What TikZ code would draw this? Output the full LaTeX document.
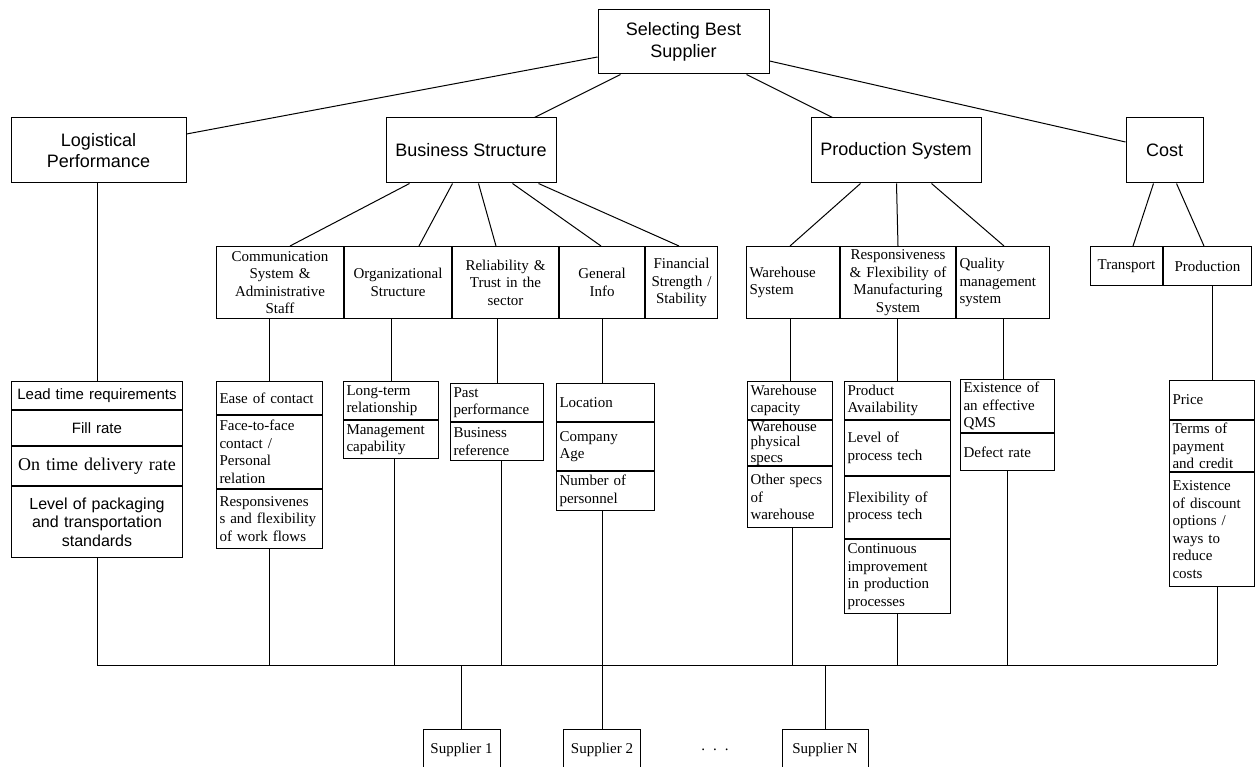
\documentclass[tikz,border=0pt]{standalone}
\usepackage{fontspec}
\setmainfont{Liberation Serif}
\setsansfont{Liberation Sans}
\usetikzlibrary{positioning}

\begin{document}
\begin{tikzpicture}[x=1pt, y=-1pt, line width=1pt,
  crit/.style={draw, align=center, inner sep=0pt,
               font=\sffamily\fontsize{18}{21.5}\selectfont},
  sub/.style={draw, anchor=north west, align=center, minimum height=72pt,
              inner xsep=3pt, inner ysep=0pt, font=\fontsize{15}{17.5}\selectfont},
  cell/.style={draw, anchor=north west, align=left,
               inner xsep=3pt, inner ysep=0pt, font=\fontsize{15}{17.5}\selectfont},
  supp/.style={draw, anchor=north, minimum height=40pt, inner sep=0pt,
               font=\fontsize{15}{17.5}\selectfont},
]
\path[use as bounding box, clip] (0,0) rectangle (1256,767);

% ---- Goal and main criteria ----
\node[crit, minimum width=171pt, minimum height=64pt] (goal) at (683.5,42) {Selecting Best\\Supplier};

\node[crit, minimum width=175pt, minimum height=65pt] (logi) at (98.5,150.5) {Logistical\\Performance};
\node[crit, minimum width=170pt, minimum height=65pt] (busi) at (471,150.5) {Business Structure};
\node[crit, minimum width=170pt, minimum height=65pt] (prod) at (896,150.5) {Production System};
\node[crit, minimum width=77pt, minimum height=65pt] (cost) at (1164.5,150.5) {Cost};

\draw ([yshift=-15pt]goal.west) -- ([yshift=16.5pt]logi.east);
\draw ([xshift=23pt]goal.south west) -- ([xshift=149pt]busi.north west);
\draw ([xshift=149pt]goal.south west) -- ([xshift=22pt]prod.north west);
\draw ([yshift=-19pt]goal.east) -- ([yshift=8.5pt]cost.west);

% ---- Sub-criteria ----
\node[sub, text width=121pt] (comm) at (216,246) {Communication\\System \&\\Administrative\\Staff};
\node[sub, text width=101pt, right=0pt of comm] (orga) {Organizational\\Structure};
\node[sub, text width=100pt, right=0pt of orga] (reli) {Reliability \&\\Trust in the\\sector};
\node[sub, text width=79pt, right=0pt of reli] (gene) {General\\Info};
\node[sub, text width=66pt, right=0pt of gene] (fina) {Financial\\Strength /\\Stability};

\node[sub, text width=87pt, align=left] (ware) at (746,246) {Warehouse\\System};
\node[sub, text width=109pt, right=0pt of ware] (resp) {Responsiveness\\\& Flexibility of\\Manufacturing\\System};
\node[sub, text width=87pt, align=left, right=0pt of resp] (qual) {Quality\\management\\system};

\node[sub, minimum height=39pt, text width=66pt] (tran) at (1090,246) {Transport};
\node[sub, minimum height=39pt, text width=82pt, right=0pt of tran] (prdn) {Production};

\draw ([xshift=24pt]busi.south west) -- ([xshift=74pt]comm.north west);
\draw ([xshift=67pt]busi.south west) -- ([xshift=75pt]orga.north west);
\draw ([xshift=93pt]busi.south west) -- ([xshift=44pt]reli.north west);
\draw ([xshift=127pt]busi.south west) -- ([xshift=42pt]gene.north west);
\draw ([xshift=153pt]busi.south west) -- ([xshift=34pt]fina.north west);

\draw ([xshift=50pt]prod.south west) -- ([xshift=44pt]ware.north west);
\draw ([xshift=86pt]prod.south west) -- ([xshift=58pt]resp.north west);
\draw ([xshift=121pt]prod.south west) -- ([xshift=48pt]qual.north west);

\draw ([xshift=28pt]cost.south west) -- ([xshift=43pt]tran.north west);
\draw ([xshift=51pt]cost.south west) -- ([xshift=41pt]prdn.north west);

% ---- Indicators ----
\node[cell, text width=165pt, align=center, minimum height=28pt,
      font=\sffamily\fontsize{15}{17.5}\selectfont] (lead) at (11,381) {Lead time requirements};
\node[cell, text width=165pt, align=center, minimum height=35pt,
      font=\sffamily\fontsize{15}{17.5}\selectfont, below=0pt of lead] (fill) {Fill rate};
\node[cell, text width=165pt, align=center, minimum height=39pt,
      font=\fontsize{18}{21}\selectfont, below=0pt of fill] (ontm) {On time delivery rate};
\node[cell, text width=165pt, align=center, minimum height=71pt,
      font=\sffamily\fontsize{16}{18.5}\selectfont, below=0pt of ontm] (pack) {Level of packaging\\and transportation\\standards};

\node[cell, text width=100pt, minimum height=33pt] (ease) at (216,381) {Ease of contact};
\node[cell, text width=100pt, minimum height=73pt, below=0pt of ease] (face) {Face-to-face\\contact /\\Personal\\relation};
\node[cell, text width=100pt, minimum height=59pt, below=0pt of face] (flow) {Responsivenes\\s and flexibility\\of work flows};

\node[cell, text width=89pt, minimum height=38pt] (longt) at (343,381) {Long-term\\relationship};
\node[cell, text width=89pt, minimum height=38pt, below=0pt of longt] (mgmt) {Management\\capability};

\node[cell, text width=87pt, minimum height=38pt] (past) at (450,383) {Past\\performance};
\node[cell, text width=87pt, minimum height=38pt, below=0pt of past] (bref) {Business\\reference};

\node[cell, text width=92pt, minimum height=38pt] (loca) at (556,383) {Location};
\node[cell, text width=92pt, minimum height=48pt, below=0pt of loca] (cage) {Company\\Age};
\node[cell, text width=92pt, minimum height=39pt, below=0pt of cage] (pers) {Number of\\personnel};

\node[cell, text width=79pt, minimum height=38pt] (wcap) at (747,381) {Warehouse\\capacity};
\node[cell, text width=79pt, minimum height=45pt, font=\fontsize{15}{15.5}\selectfont,
      below=0pt of wcap] (wphy) {Warehouse\\physical\\specs};
\node[cell, text width=79pt, minimum height=61pt, below=0pt of wphy] (woth) {Other specs\\of\\warehouse};

\node[cell, text width=100pt, minimum height=38pt] (avail) at (844,381) {Product\\Availability};
\node[cell, text width=100pt, minimum height=55pt, below=0pt of avail] (lvl) {Level of\\process tech};
\node[cell, text width=100pt, minimum height=62pt, below=0pt of lvl] (flex) {Flexibility of\\process tech};
\node[cell, text width=100pt, minimum height=74pt, below=0pt of flex] (cont) {Continuous\\improvement\\in production\\processes};

\node[cell, text width=88pt, minimum height=53pt] (qms) at (960,379) {Existence of\\an effective\\QMS};
\node[cell, text width=88pt, minimum height=37pt, below=0pt of qms] (defr) {Defect rate};

\node[cell, text width=79pt, minimum height=39pt] (price) at (1169,380) {Price};
\node[cell, text width=79pt, minimum height=51pt, below=0pt of price] (terms) {Terms of\\payment\\and credit};
\node[cell, text width=79pt, minimum height=114pt, below=0pt of terms] (disc) {Existence\\of discount\\options /\\ways to\\reduce\\costs};

\draw (lead.north) -- (lead.north |- logi.south);
\draw (ease.north) -- (ease.north |- comm.south);
\draw (longt.north) -- (longt.north |- orga.south);
\draw (past.north) -- (past.north |- reli.south);
\draw (gene.south) -- (gene.south |- loca.north);
\draw (wcap.north) -- (wcap.north |- ware.south);
\draw (avail.north) -- (avail.north |- resp.south);
\draw ([xshift=-4pt]qms.north) -- ([xshift=-4pt]qms.north |- qual.south);
\draw (price.north) -- (price.north |- prdn.south);

% ---- Suppliers ----
\coordinate (bus) at (0,665);

\node[supp, minimum width=77pt] (sup1) at (461.5,729) {Supplier 1};
\node[supp, minimum width=77pt] (sup2) at (602,729) {Supplier 2};
\node[supp, minimum width=86pt] (supN) at (825,729) {Supplier N};
\node[font=\fontsize{15}{17.5}\selectfont, inner sep=0pt] (dots) at (715,750) {.\hspace{8pt}.\hspace{8pt}.};

\draw (pack.south) -- (pack.south |- bus);
\draw (flow.south) -- (flow.south |- bus);
\draw ([xshift=3pt]mgmt.south) -- ([xshift=3pt]mgmt.south |- bus);
\draw ([xshift=4pt]bref.south) -- ([xshift=4pt]bref.south |- bus);
\draw (sup2.north |- pers.south) -- (sup2.north);
\draw ([xshift=2pt]woth.south) -- ([xshift=2pt]woth.south |- bus);
\draw (cont.south) -- (cont.south |- bus);
\draw (defr.south) -- (defr.south |- bus);
\draw ([xshift=5pt]disc.south) -- ([xshift=5pt]disc.south |- bus);
\draw (pack.south |- bus) -- ([xshift=5pt]disc.south |- bus);

\draw (sup1.north |- bus) -- (sup1.north);
\draw (supN.north |- bus) -- (supN.north);

\end{tikzpicture}
\end{document}
